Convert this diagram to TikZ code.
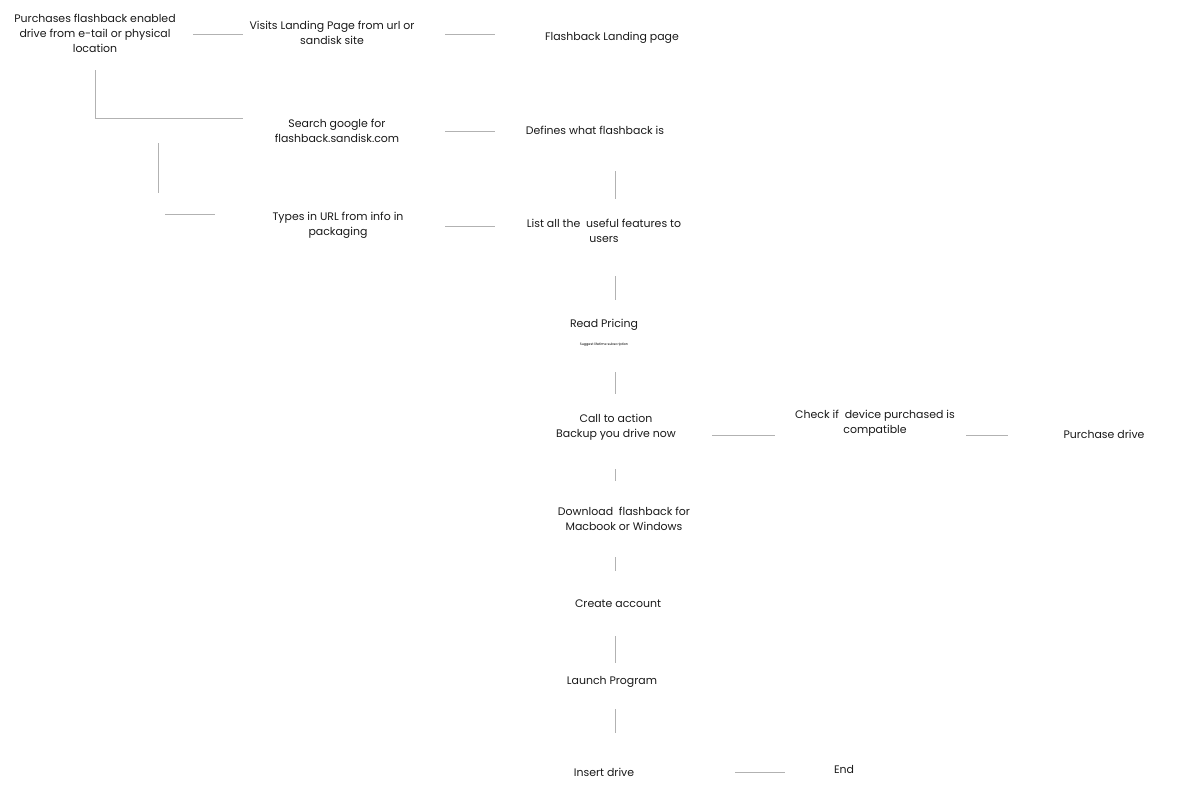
\documentclass[tikz,border=0pt]{standalone}
\usepackage{fontspec}
\setmainfont{Poppins}
\begin{document}
\begin{tikzpicture}[x=0.75pt,y=-0.75pt,
  t/.style={align=center,font=\fontsize{8.2}{11.3}\selectfont,text=black!90},
  ln/.style={draw=black!30,line width=0.6pt}]
\useasboundingbox (0,0) rectangle (1199,811);
\node[t] (A) at (95,33) {Purchases flashback enabled\\drive from e-tail or physical\\location};
\node[t] (B) at (332,33) {Visits Landing Page from url or\\sandisk site};
\node[t] (C) at (612,38) {Flashback Landing page};
\node[t] (D) at (337,131) {Search google for\\flashback.sandisk.com};
\node[t] (E) at (595,130) {Defines what flashback is};
\node[t] (F) at (338,225) {Types in URL from info in\\packaging};
\node[t] (G) at (604,231) {List all the\ \ useful features to\\users};
\node[t] (H) at (604,325) {Read Pricing};
\node[font=\fontsize{2.5}{3}\selectfont] (H2) at (604,345) {Suggest lifetime subscription};
\node[t] (I) at (616,427) {Call to action\\Backup you drive now};
\node[t] (J) at (875,423) {Check if\ \ device purchased is\\compatible};
\node[t] (K) at (1104,434) {Purchase drive};
\node[t] (L) at (624,519) {Download\ \ flashback for\\Macbook or Windows};
\node[t] (M) at (618,604) {Create account};
\node[t] (N) at (612,682) {Launch Program};
\node[t] (O) at (604,772) {Insert drive};
\node[t] (P) at (844,769) {End};
\draw[ln] (193,34) -- (243,34);
\draw[ln] (445,34) -- (495,34);
\draw[ln] (95,70) -- (95,118) -- (243,118);
\draw[ln] (445,131) -- (495,131);
\draw[ln] (158,143) -- (158,193);
\draw[ln] (165,214) -- (215,214);
\draw[ln] (445,226) -- (495,226);
\draw[ln] (615,171) -- (615,199);
\draw[ln] (615,276) -- (615,300);
\draw[ln] (615,372) -- (615,394);
\draw[ln] (712,435) -- (775,435);
\draw[ln] (966,435) -- (1008,435);
\draw[ln] (615,469) -- (615,481);
\draw[ln] (615,557) -- (615,571);
\draw[ln] (615,636) -- (615,663);
\draw[ln] (615,709) -- (615,733);
\draw[ln] (735,772) -- (785,772);
\end{tikzpicture}
\end{document}
